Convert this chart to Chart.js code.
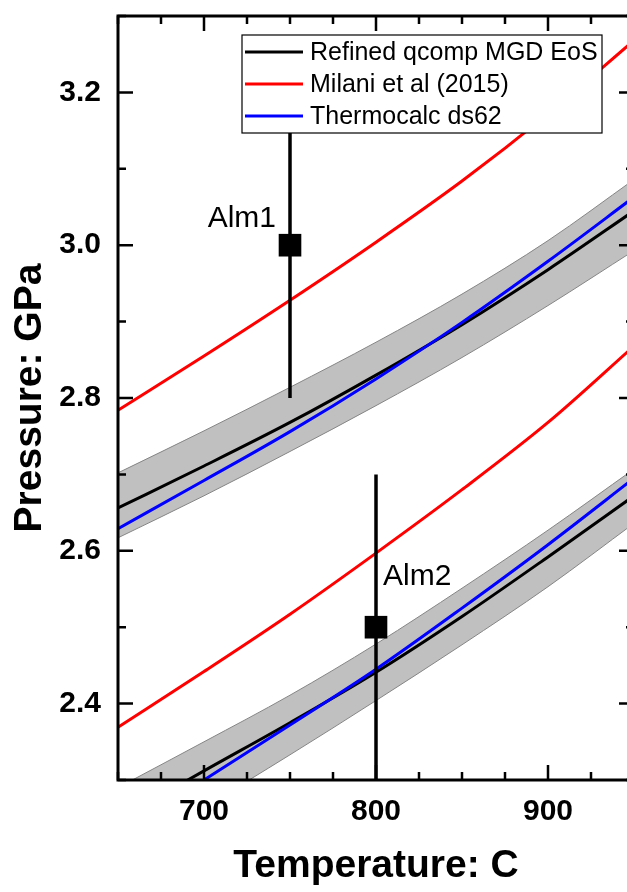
<!DOCTYPE html>
<html>
<head>
<meta charset="utf-8">
<script src="https://cdn.jsdelivr.net/npm/chart.js@4.4.1/dist/chart.umd.min.js"></script>
<style>
html, body { margin: 0; padding: 0; background: #fff; overflow: hidden; }
#wrap { width: 650px; height: 892px; }
</style>
</head>
<body>
<div id="wrap"><canvas id="ptChart" width="650" height="892"></canvas></div>
<script>
// Temperature grid (C) and pressures (GPa)
const temps = [650, 700, 750, 800, 850, 900, 950];

// Alm1 set (upper curves)
const refinedAlm1   = [2.656, 2.711, 2.768, 2.830, 2.896, 2.968, 3.045];
const refinedAlm1Hi = [2.702, 2.757, 2.814, 2.873, 2.936, 3.006, 3.086];
const refinedAlm1Lo = [2.617, 2.672, 2.730, 2.790, 2.853, 2.921, 2.993];
const milaniAlm1    = [2.784, 2.855, 2.928, 3.004, 3.084, 3.172, 3.268];
const ds62Alm1      = [2.629, 2.692, 2.756, 2.825, 2.899, 2.979, 3.063];

// Alm2 set (lower curves)
const refinedAlm2   = [2.248, 2.312, 2.375, 2.441, 2.514, 2.592, 2.672];
const refinedAlm2Hi = [2.290, 2.350, 2.411, 2.478, 2.551, 2.627, 2.707];
const refinedAlm2Lo = [2.205, 2.265, 2.333, 2.404, 2.477, 2.553, 2.636];
const milaniAlm2    = [2.369, 2.442, 2.517, 2.597, 2.680, 2.768, 2.868];
const ds62Alm2      = [2.230, 2.300, 2.372, 2.445, 2.525, 2.608, 2.695];

// measured samples
const sampleNames = ["Alm1", "Alm2"];
const sampleT     = [750, 800];
const sampleP     = [3.0, 2.5];
const sampleErr   = [0.2, 0.2];

const legendNames = ["Refined qcomp MGD EoS", "Milani et al (2015)", "Thermocalc ds62"];

const xTicks = [700, 800, 900];
const yTicks = [2.4, 2.6, 2.8, 3.0, 3.2];

const FONT = "'Liberation Sans', Arial, sans-serif";
const BLACK = "#000000", RED = "#ff0000", BLUE = "#0000ff";
const legendColors = [BLACK, RED, BLUE];

const toXY = arr => arr.map((p, i) => ({ x: temps[i], y: p }));

function curve(values, color, width, extra) {
    return Object.assign({
        data: toXY(values),
        borderColor: color,
        borderWidth: width,
        pointRadius: 0,
        fill: false,
        cubicInterpolationMode: "monotone",
        clip: 0,
        order: 2
    }, extra || {});
}

const bandStyle = { order: 5 };

const datasets = [
    curve(refinedAlm1Hi, "#858585", 1, { fill: "+1", backgroundColor: "#c0c0c0", order: 5 }),
    curve(refinedAlm1Lo, "#858585", 1, bandStyle),
    curve(refinedAlm2Hi, "#858585", 1, { fill: "+1", backgroundColor: "#c0c0c0", order: 5 }),
    curve(refinedAlm2Lo, "#858585", 1, bandStyle),
    curve(milaniAlm1, RED, 3),
    curve(milaniAlm2, RED, 3),
    curve(ds62Alm1, BLUE, 3),
    curve(ds62Alm2, BLUE, 3),
    curve(refinedAlm1, BLACK, 3),
    curve(refinedAlm2, BLACK, 3)
];

// error bars
sampleT.forEach((t, i) => {
    datasets.push({
        data: [{ x: t, y: sampleP[i] - sampleErr[i] }, { x: t, y: sampleP[i] + sampleErr[i] }],
        borderColor: BLACK,
        borderWidth: 3.5,
        pointRadius: 0,
        fill: false,
        clip: 0,
        order: 1
    });
});

// sample points
datasets.push({
    type: "scatter",
    data: sampleT.map((t, i) => ({ x: t, y: sampleP[i] })),
    backgroundColor: BLACK,
    borderWidth: 0,
    pointStyle: "rect",
    pointRadius: 16,
    pointHoverRadius: 16,
    order: 0
});

// frame with inward ticks, legend box and sample labels
const decorations = {
    id: "decorations",
    afterDatasetsDraw(chart) {
        const { ctx, chartArea: a, scales: { x, y } } = chart;
        ctx.save();
        ctx.strokeStyle = BLACK;
        ctx.lineWidth = 3;
        ctx.strokeRect(a.left, a.top, a.right - a.left, a.bottom - a.top);

        ctx.lineWidth = 2.5;
        ctx.beginPath();
        for (let v = 650; v <= 950; v += 25) {
            const px = x.getPixelForValue(v);
            const len = xTicks.includes(v) ? 15 : 8;
            ctx.moveTo(px, a.bottom); ctx.lineTo(px, a.bottom - len);
            ctx.moveTo(px, a.top); ctx.lineTo(px, a.top + len);
        }
        for (let k = 23; k <= 33; k++) {
            const v = k / 10;
            const py = y.getPixelForValue(v);
            const len = k % 2 === 0 ? 15 : 8;
            ctx.moveTo(a.left, py); ctx.lineTo(a.left + len, py);
            ctx.moveTo(a.right, py); ctx.lineTo(a.right - len, py);
        }
        ctx.stroke();

        // legend
        const lx = 242, ly = 35, lw = 360, lh = 98;
        ctx.fillStyle = "#fff";
        ctx.fillRect(lx, ly, lw, lh);
        ctx.lineWidth = 1.2;
        ctx.strokeStyle = BLACK;
        ctx.strokeRect(lx, ly, lw, lh);
        ctx.font = "25px " + FONT;
        ctx.textBaseline = "middle";
        ctx.textAlign = "left";
        legendNames.forEach((name, i) => {
            const ry = ly + 17 + i * 32;
            ctx.strokeStyle = legendColors[i];
            ctx.lineWidth = 3;
            ctx.beginPath();
            ctx.moveTo(lx + 3, ry); ctx.lineTo(lx + 61, ry);
            ctx.stroke();
            ctx.fillStyle = BLACK;
            ctx.fillText(name, lx + 68, ry + 1);
        });

        // sample labels
        ctx.font = "30px " + FONT;
        ctx.fillStyle = BLACK;
        sampleNames.forEach((name, i) => {
            const px = x.getPixelForValue(sampleT[i]);
            const py = y.getPixelForValue(sampleP[i]);
            if (i === 0) {
                ctx.textAlign = "right";
                ctx.fillText(name, px - 14, py - 26);
            } else {
                ctx.textAlign = "left";
                ctx.fillText(name, px + 7, py - 50);
            }
        });
        ctx.restore();
    }
};

Chart.defaults.font.family = FONT;
Chart.defaults.color = BLACK;

new Chart(document.getElementById("ptChart").getContext("2d"), {
    type: "line",
    data: { datasets: datasets },
    options: {
        responsive: false,
        animation: false,
        events: [],
        layout: { padding: { top: 13, right: 8, left: 0, bottom: 0 } },
        plugins: {
            legend: { display: false },
            tooltip: { enabled: false },
            filler: { drawTime: "beforeDatasetsDraw" }
        },
        scales: {
            x: {
                type: "linear",
                min: 650,
                max: 950,
                afterBuildTicks: s => { s.ticks = xTicks.map(v => ({ value: v })); },
                afterFit: s => { s.height = 112; s.paddingLeft = 0; s.paddingRight = 0; },
                grid: { display: false, drawTicks: false },
                border: { display: false },
                ticks: {
                    font: { size: 30, weight: "bold" },
                    padding: 14,
                    maxRotation: 0,
                    callback: v => String(v)
                },
                title: {
                    display: true,
                    text: "Temperature: C",
                    font: { size: 39, weight: "bold" },
                    padding: { top: 0, bottom: 2 }
                }
            },
            y: {
                type: "linear",
                min: 2.3,
                max: 3.3,
                afterBuildTicks: s => { s.ticks = yTicks.map(v => ({ value: v })); },
                afterFit: s => { s.width = 118; s.paddingTop = 0; s.paddingBottom = 0; },
                grid: { display: false, drawTicks: false },
                border: { display: false },
                ticks: {
                    font: { size: 30, weight: "bold" },
                    padding: 17,
                    callback: v => v.toFixed(1)
                },
                title: {
                    display: true,
                    text: "Pressure: GPa",
                    font: { size: 39, weight: "bold" },
                    padding: { top: 7, bottom: 0 }
                }
            }
        }
    },
    plugins: [decorations]
});
</script>
</body>
</html>
